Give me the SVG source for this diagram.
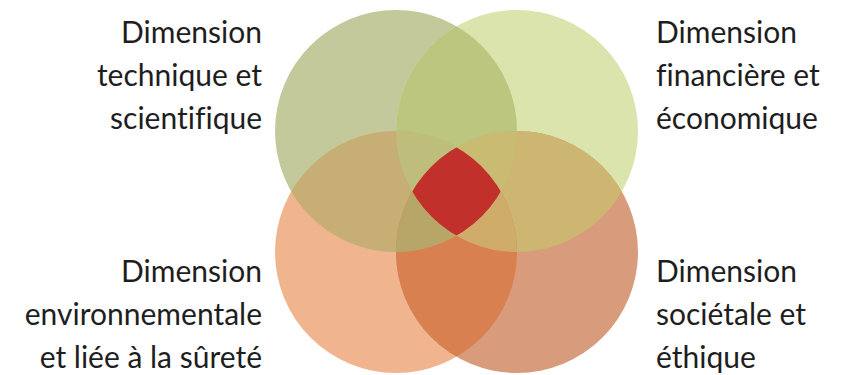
<svg xmlns="http://www.w3.org/2000/svg" width="844" height="375" viewBox="0 0 844 375">
<defs>
<style>
.lbl{font-family:Lato,"Open Sans",sans-serif;font-size:30px;fill:#1e1e1e;font-variant-ligatures:none}
.r{text-anchor:end}
</style>
<clipPath id="cA"><circle cx="396" cy="131" r="121"/></clipPath>
<clipPath id="cB"><circle cx="517" cy="131" r="121"/></clipPath>
<clipPath id="cC"><circle cx="396" cy="252" r="121"/></clipPath>
<clipPath id="cD"><circle cx="517" cy="252" r="121"/></clipPath>
</defs>
<rect width="844" height="375" fill="#ffffff"/>
<g id="circles">
<circle id="A" cx="396" cy="131" r="121" fill="#c3c99b"/>
<circle id="B" cx="517" cy="131" r="121" fill="#dbe4ac"/>
<circle id="C" cx="396" cy="252" r="121" fill="#f0b48f"/>
<circle id="D" cx="517" cy="252" r="121" fill="#d89b7b"/>
<g clip-path="url(#cA)">
<circle cx="517" cy="131" r="121" fill="#bcc67f"/>
<circle cx="396" cy="252" r="121" fill="#c6ae74"/>
</g>
<g clip-path="url(#cD)">
<circle cx="517" cy="131" r="121" fill="#cdb671"/>
<circle cx="396" cy="252" r="121" fill="#d8804f"/>
</g>
<g clip-path="url(#cA)"><g clip-path="url(#cB)"><circle cx="396" cy="252" r="121" fill="#bfbd7c"/><circle cx="517" cy="252" r="121" fill="#c9bb72"/></g></g>
<g clip-path="url(#cC)"><g clip-path="url(#cD)"><circle cx="396" cy="131" r="121" fill="#b8a669"/><circle cx="517" cy="131" r="121" fill="#cfac6a"/></g></g>
<g clip-path="url(#cA)"><g clip-path="url(#cB)"><g clip-path="url(#cC)"><circle id="center" cx="517" cy="252" r="121" fill="#c1302a"/></g></g></g>
</g>
<g id="labels">
<g id="tl"><text class="lbl r" x="262" y="43">Dimension</text><text class="lbl r" x="262" y="86">technique et</text><text class="lbl r" x="262" y="129">scientifique</text></g>
<g id="tr"><text class="lbl" x="656" y="43">Dimension</text><text class="lbl" x="656" y="86">financière et</text><text class="lbl" x="656" y="129">économique</text></g>
<g id="bl"><text class="lbl r" x="262" y="282">Dimension</text><text class="lbl r" x="262" y="325">environnementale</text><text class="lbl r" x="262" y="368">et liée à la sûreté</text></g>
<g id="br"><text class="lbl" x="656" y="282">Dimension</text><text class="lbl" x="656" y="325">sociétale et</text><text class="lbl" x="656" y="368">éthique</text></g>
</g>
<g id="connectors"/>
</svg>
